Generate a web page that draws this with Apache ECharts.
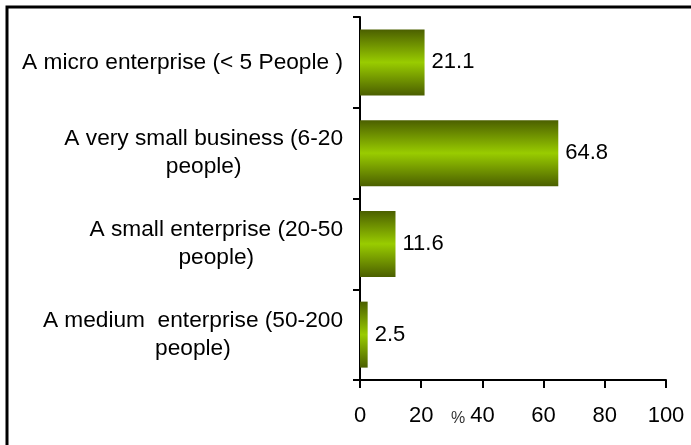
<!DOCTYPE html>
<html>
<head>
<meta charset="utf-8">
<script src="https://cdn.jsdelivr.net/npm/echarts@6/dist/echarts.min.js"></script>
<style>
  html, body { margin: 0; padding: 0; background: #fff; }
  #chart { width: 691px; height: 445px; }
</style>
</head>
<body>
<div id="chart"></div>
<script>
// data
var categories = [
    'A micro enterprise (< 5 People )',
    'A very small business (6-20\npeople)',
    'A small enterprise (20-50\npeople)',
    'A medium  enterprise (50-200\npeople)'
];
var shares = [21.1, 64.8, 11.6, 2.5];
var axisMin = 0;
var axisMax = 100;
var axisStep = 20;
var unitLabel = '%';

var fontFamily = 'Liberation Sans, Arial, sans-serif';
var chart = echarts.init(document.getElementById('chart'));

var barColor = new echarts.graphic.LinearGradient(0, 0, 0, 1, [
    {offset: 0, color: '#4b5f00'},
    {offset: 0.5, color: '#99cc00'},
    {offset: 1, color: '#4b5f00'}
]);

var option = {
    animation: false,
    grid: {
        left: 360,
        top: 17,
        width: 306,
        height: 363,
        containLabel: false
    },
    xAxis: {
        type: 'value',
        min: axisMin,
        max: axisMax,
        interval: axisStep,
        axisLine: {show: true, lineStyle: {color: '#000', width: 2}},
        axisTick: {show: true, length: 8, lineStyle: {color: '#000', width: 2}},
        axisLabel: {color: '#000', fontSize: 22, fontFamily: fontFamily, margin: 25},
        splitLine: {show: false}
    },
    yAxis: {
        type: 'category',
        inverse: true,
        data: categories,
        axisLine: {show: true, lineStyle: {color: '#000', width: 2}},
        axisTick: {show: true, length: 7, lineStyle: {color: '#000', width: 2}},
        axisLabel: {
            color: '#000',
            fontSize: 22.7,
            fontFamily: fontFamily,
            margin: 17,
            lineHeight: 28,
            // each line centred in the block, block right-aligned to the axis
            formatter: function (v) {
                return v.split('\n').map(function (s) { return '{c|' + s + '}'; }).join('\n');
            },
            rich: {
                c: {align: 'center', fontSize: 22.7, fontFamily: fontFamily, color: '#000', lineHeight: 28}
            }
        }
    },
    series: [{
        type: 'bar',
        data: shares,
        barWidth: 66,
        itemStyle: {color: barColor},
        label: {
            show: true,
            position: 'right',
            distance: 7,
            color: '#000',
            fontSize: 22,
            fontFamily: fontFamily
        }
    }],
    graphic: [
        {
            type: 'rect',
            shape: {x: 7, y: 7, width: 760, height: 520},
            style: {fill: 'none', stroke: '#000', lineWidth: 3}
        },
        {
            type: 'text',
            left: 451,
            top: 411,
            style: {text: unitLabel, fill: '#333', fontSize: 16, fontFamily: fontFamily}
        }
    ]
};

chart.setOption(option);
</script>
</body>
</html>
